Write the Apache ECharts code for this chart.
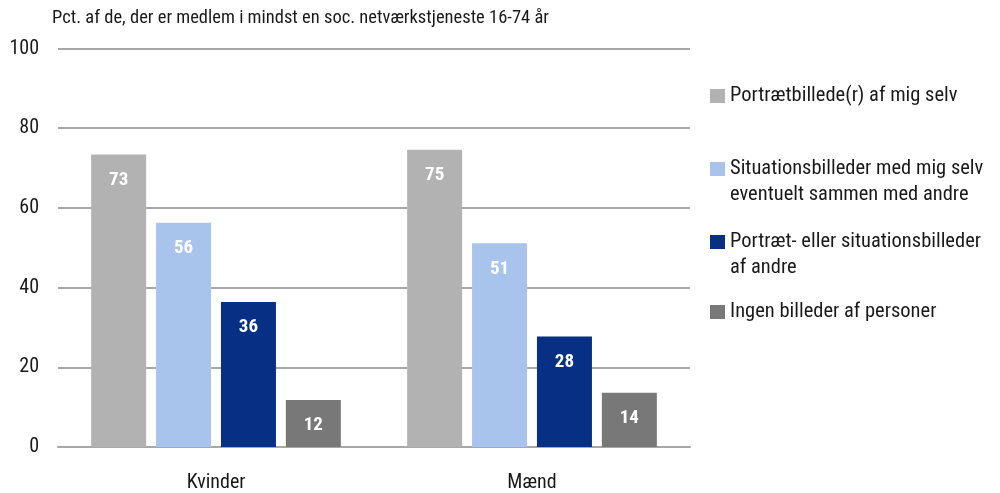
<!DOCTYPE html>
<html>
<head>
<meta charset="utf-8">
<script src="https://cdn.jsdelivr.net/npm/echarts@6/dist/echarts.min.js"></script>
<style>
html,body{margin:0;padding:0;background:#fff;}
#chart{width:1000px;height:493px;}
</style>
</head>
<body>
<div id="chart"></div>
<script>
const categories = ['Kvinder', 'Mænd'];
const seriesNames = [
  'Portrætbillede(r) af mig selv',
  'Situationsbilleder med mig selv\neventuelt sammen med andre',
  'Portræt- eller situationsbilleder\naf andre',
  'Ingen billeder af personer'
];
const portraet = [73.4, 74.6];
const situation = [56.3, 51.1];
const andre = [36.4, 27.7];
const ingen = [11.8, 13.6];
const yTicks = [0, 20, 40, 60, 80, 100];
const titleText = 'Pct. af de, der er medlem i mindst en soc. netværkstjeneste 16-74 år';

const values = [portraet, situation, andre, ingen];
const colors = ['#b2b2b2', '#a8c3ec', '#072f84', '#787878'];
const FONT = '"Roboto Condensed", "Liberation Sans", Arial, sans-serif';
const legendTops = [83, 130, 203, 299];

const chart = echarts.init(document.getElementById('chart'), null, {renderer: 'canvas'});

const series = values.map((v, i) => ({
  name: seriesNames[i],
  type: 'bar',
  data: v,
  barWidth: 55,
  barGap: '18%',
  itemStyle: {color: colors[i]},
  label: {
    show: true,
    position: 'insideTop',
    distance: 16,
    color: '#fff',
    fontFamily: FONT,
    fontWeight: 'bold',
    fontSize: 19,
    formatter: p => Math.round(p.value)
  }
}));

const legends = seriesNames.map((n, i) => {
  const multi = n.indexOf('\n') >= 0;
  return {
    data: [n],
    orient: 'vertical',
    left: 710,
    top: legendTops[i],
    padding: 0,
    itemWidth: 15,
    itemHeight: 14,
    itemGap: 0,
    icon: 'rect',
    selectedMode: false,
    formatter: name => (multi ? '\n' : '') + name,
    textStyle: {
      fontFamily: FONT,
      fontSize: 20.5,
      color: '#1a1a1a',
      lineHeight: 26
    }
  };
});

chart.setOption({
  animation: false,
  title: {
    text: titleText,
    left: 52,
    top: 9,
    padding: 0,
    textStyle: {fontFamily: FONT, fontSize: 18.5, fontWeight: 'normal', color: '#1a1a1a'}
  },
  legend: legends,
  grid: {left: 58, right: 310, top: 48.5, bottom: 42.5},
  xAxis: {
    type: 'category',
    data: categories,
    axisLine: {show: true, lineStyle: {color: '#a8a8a8', width: 2}},
    axisTick: {show: false},
    axisLabel: {fontFamily: FONT, fontSize: 20, color: '#1a1a1a', margin: 26}
  },
  yAxis: {
    type: 'value',
    min: yTicks[0],
    max: yTicks[yTicks.length - 1],
    interval: yTicks[1] - yTicks[0],
    axisLine: {show: false},
    axisTick: {show: false},
    splitLine: {lineStyle: {color: '#a8a8a8', width: 2}},
    axisLabel: {fontFamily: FONT, fontSize: 20, color: '#1a1a1a', margin: 19}
  },
  series: series
});
</script>
</body>
</html>
